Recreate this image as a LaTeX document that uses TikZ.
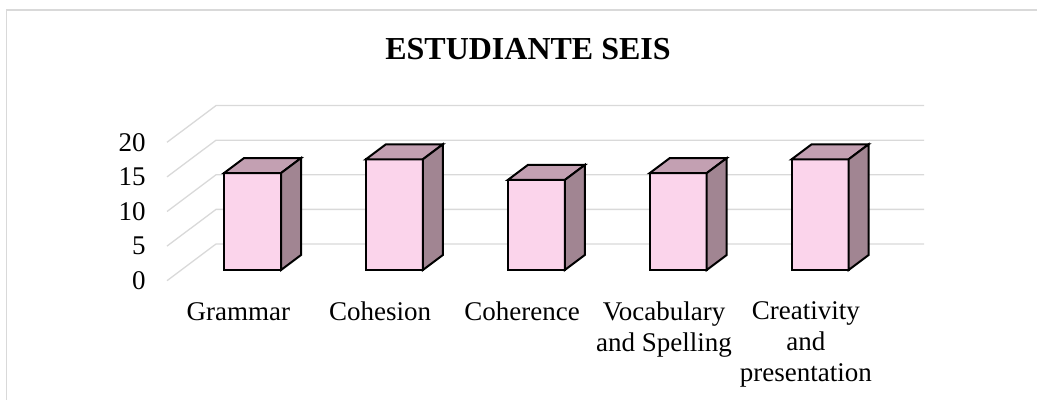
\documentclass[tikz,border=0pt]{standalone}
\usepackage{fontspec}
\setmainfont{Liberation Serif}
\definecolor{facefront}{RGB}{251,212,235}
\definecolor{facetop}{RGB}{195,160,178}
\definecolor{faceside}{RGB}{161,133,146}
\definecolor{gridgray}{RGB}{217,217,217}
\tikzset{
    every node/.style={inner sep=0pt, font=\fontsize{13.5pt}{15.5pt}\selectfont}
}
\tikzset{
    catlabel/.style={anchor=north, align=center, execute at begin node=\vphantom{bd}}
}
\tikzset{
    barface/.style={draw=black, line width=1pt}
}
\tikzset{
    gridline/.style={draw=gridgray, line width=0.65pt}
}
% one 3d column: left x of the front face, height
\newcommand{\colbar}[2]{
    \draw[barface, fill=facefront] (#1,270) rectangle ++(57,-#2);
    \draw[barface, fill=facetop] (#1,270-#2) -- ++(20,-15) -- ++(57,0) -- ++(-20,15) -- cycle;
    \draw[barface, fill=faceside] (#1+57,270) -- ++(0,-#2) -- ++(20,-15) -- ++(0,#2) -- cycle;
}

\begin{document}
\begin{tikzpicture}[x=0.5pt, y=-0.5pt]
	\useasboundingbox (0,0) rectangle (1037,400);
	\draw[gridline] (6.7,402) |- (1040,10);
	
	\node (title) [anchor=base, font=\bfseries\fontsize{16pt}{19pt}\selectfont] at (528,60) {ESTUDIANTE SEIS};
	
	\draw[gridline] (167,280.7) -- (216,244.0) -- (924,244.0);
	\draw[gridline] (167,246.1) -- (216,209.4) -- (924,209.4);
	\draw[gridline] (167,211.5) -- (216,174.8) -- (924,174.8);
	\draw[gridline] (167,176.9) -- (216,140.2) -- (924,140.2);
	\draw[gridline] (167,142.3) -- (216,105.6) -- (924,105.6);
	
	\node (t0) [anchor=east] at (146,280.7) {0};
	\node (t5) [anchor=east] at (146,246.1) {5};
	\node (t10) [anchor=east] at (146,211.5) {10};
	\node (t15) [anchor=east] at (146,176.9) {15};
	\node (t20) [anchor=east] at (146,142.3) {20};
	
	\colbar{224}{96.9}
	\colbar{365.9}{110.7}
	\colbar{507.8}{90}
	\colbar{649.7}{96.9}
	\colbar{791.6}{110.7}
	
	\node (grammar) [catlabel] at (238.3,301.5) {Grammar};
	\node (cohesion) [catlabel] at (380.2,301.5) {Cohesion};
	\node (coherence) [catlabel] at (522.1,301.5) {Coherence};
	\node (vocabulary) [catlabel] at (664,301.5) {Vocabulary\\and Spelling};
	\node (creativity) [catlabel] at (805.9,301.5) {Creativity\\and\\presentation};
\end{tikzpicture}
\end{document}
